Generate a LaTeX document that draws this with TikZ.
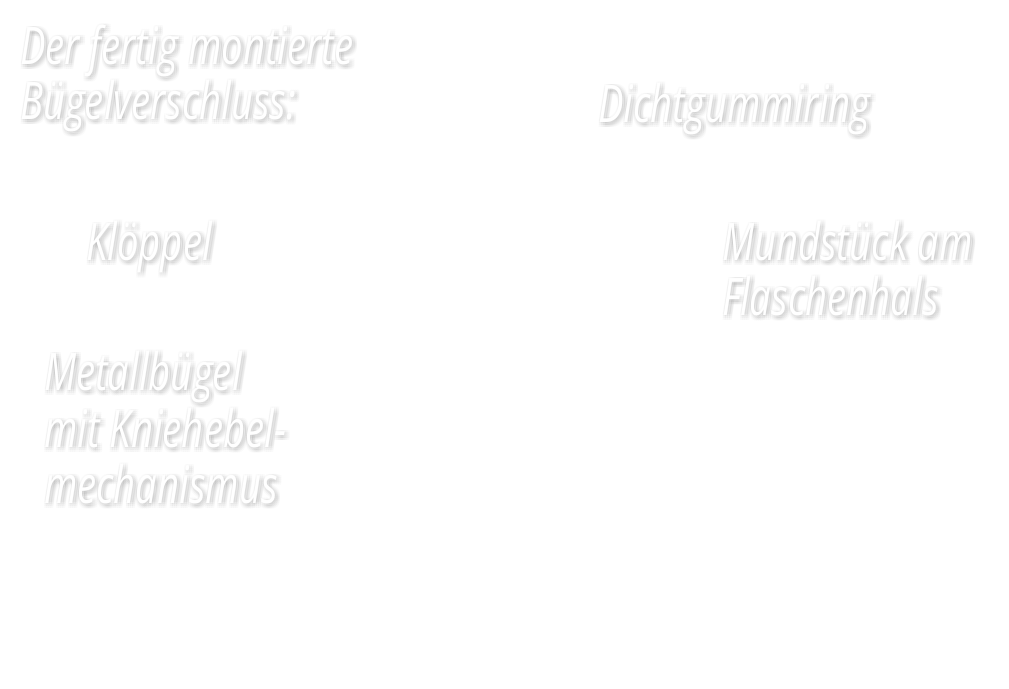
\documentclass[tikz,border=0pt]{standalone}
\usepackage{fontspec}
\setmainfont{Open Sans}
\newfontfamily\handfont{Open Sans Italic}[FakeStretch=0.74]
\tikzset{
  lbl/.style={anchor=base west, inner sep=0pt, outer sep=0pt,
    font={\handfont\fontsize{52}{56}\selectfont}},
  shadowcopy/.style={lbl, text=black, text opacity=0.018}
}
\newcommand\glowlabel[3]{%
  \foreach \dx in {-1,1,3,5}{\foreach \dy in {-1,1,3,5}{%
    \node[shadowcopy] (#1s\dx\dy) at ([xshift=\dx bp, yshift=-\dy bp]#2) {#3};}}%
  \node[lbl, text=white] (#1) at (#2) {#3};%
}
\begin{document}
\begin{tikzpicture}[x=1bp,y=-1bp]
\fill[white] (0,0) rectangle (1009,689);
\useasboundingbox (0,0) rectangle (1009,689);
\coordinate (p1) at (20,65);
\coordinate (p2) at (20,120);
\coordinate (p3) at (598,123);
\coordinate (p4) at (86,260);
\coordinate (p5) at (722,260);
\coordinate (p6) at (722,315);
\coordinate (p7) at (44,390);
\coordinate (p8) at (44,447);
\coordinate (p9) at (44,503);
\glowlabel{titlea}{p1}{Der fertig montierte}
\glowlabel{titleb}{p2}{Bügelverschluss:}
\glowlabel{dicht}{p3}{Dichtgummiring}
\glowlabel{kloeppel}{p4}{Klöppel}
\glowlabel{munda}{p5}{Mundstück am}
\glowlabel{mundb}{p6}{Flaschenhals}
\glowlabel{meta}{p7}{Metallbügel}
\glowlabel{metb}{p8}{mit Kniehebel-}
\glowlabel{metc}{p9}{mechanismus}
\end{tikzpicture}
\end{document}
